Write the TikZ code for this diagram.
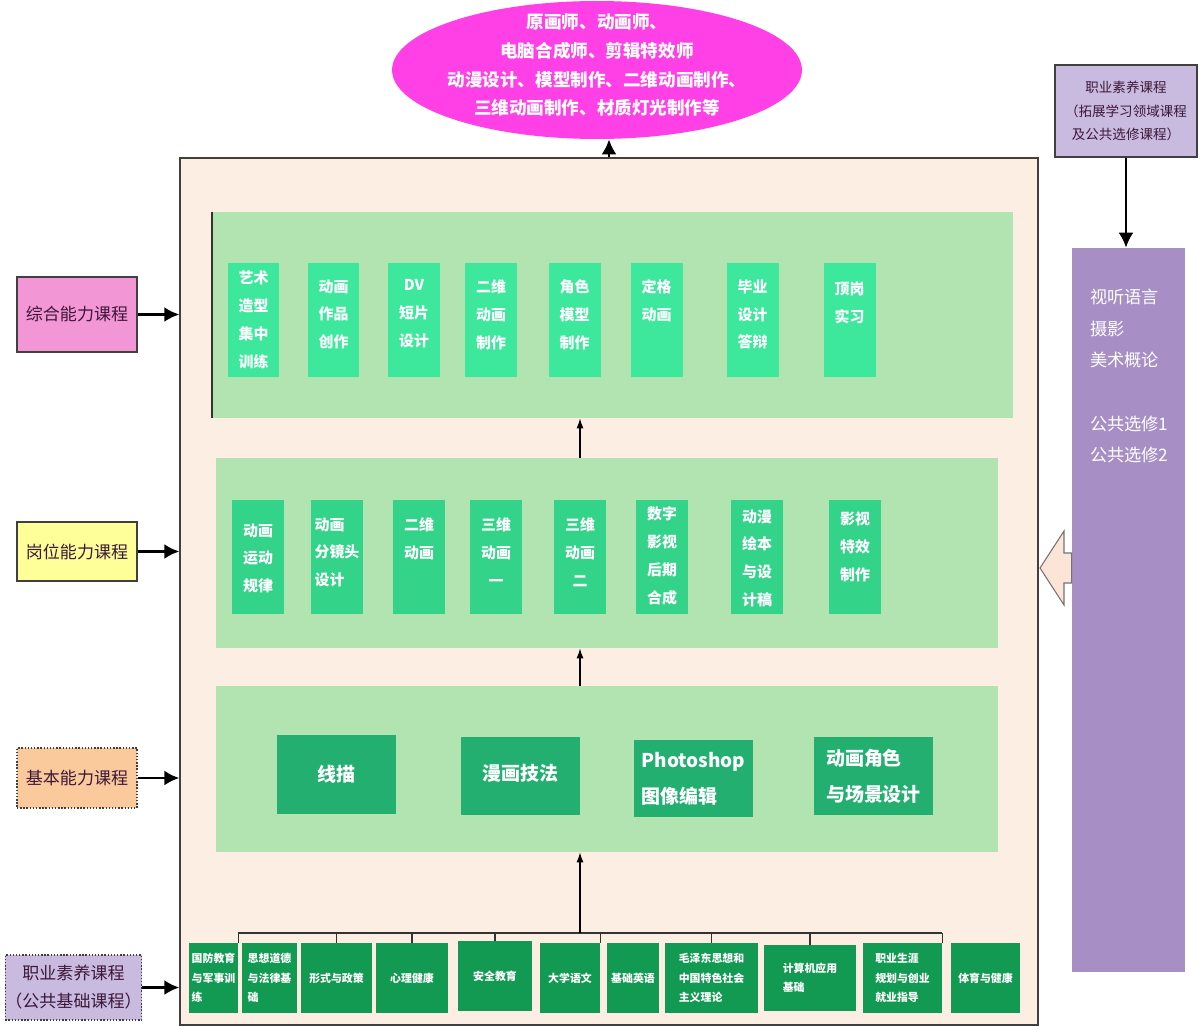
\documentclass[tikz,border=0pt]{standalone}
\usepackage{fontspec}
\setmainfont{Noto Sans CJK SC}
\usetikzlibrary{shapes.geometric,arrows.meta,positioning}

\definecolor{framebg}{HTML}{FDEEE4}
\definecolor{bandgreen}{HTML}{B1E4B0}
\definecolor{topgreen}{HTML}{3DE89D}
\definecolor{midgreen}{HTML}{33D38A}
\definecolor{lowgreen}{HTML}{22AF6F}
\definecolor{basegreen}{HTML}{139A52}
\definecolor{goalpink}{HTML}{FF40E6}
\definecolor{labpink}{HTML}{F396D6}
\definecolor{labyellow}{HTML}{FFFF99}
\definecolor{labpeach}{HTML}{FAC99C}
\definecolor{lablilac}{HTML}{C9BAE0}
\definecolor{colpurple}{HTML}{A78FC5}
\definecolor{labtext}{HTML}{3C1838}
\definecolor{hollow}{HTML}{FCE4D6}

\tikzset{
  bigarrow/.style={line width=1.6pt,-{Latex[length=3mm,width=3mm]}},
  thinarrow/.style={line width=0.7pt,-{Latex[length=2mm,width=1.4mm]}},
  band/.style={fill=bandgreen,inner sep=0},
  topbox/.style={fill=topgreen,minimum width=1.04cm,minimum height=2.28cm,inner sep=0},
  midbox/.style={fill=midgreen,minimum width=1.04cm,minimum height=2.28cm,inner sep=0},
  boxtext/.style={text=white,font=\bfseries\fontsize{8.5}{15.9}\selectfont,align=center,inner sep=0,anchor=north},
  lowbox/.style={fill=lowgreen,minimum width=2.38cm,minimum height=1.56cm,inner sep=0,text=white,
    font=\bfseries\fontsize{10.8}{20.4}\selectfont,align=left},
  basebox/.style={fill=basegreen,minimum height=1.4cm,inner sep=0,text=white,
    font=\bfseries\fontsize{6.2}{11}\selectfont,align=left},
  course/.style={draw=black!75,line width=0.8pt,minimum width=2.4cm,inner sep=0,text=labtext,
    font=\fontsize{9.7}{16}\selectfont,align=center}
}

\begin{document}
\begin{tikzpicture}[x=0.02cm,y=-0.02cm]
  \useasboundingbox (0,0) rectangle (1200,1027);

  \node[ellipse,fill=goalpink,minimum width=8.2cm,minimum height=2.76cm,inner sep=0] (goal) at (597,70) {};
  \node[text=white,font=\bfseries\fontsize{10}{16.4}\selectfont,align=center] (goaltext) at (597,65)
    {原画师、动画师、\\电脑合成师、剪辑特效师\\动漫设计、模型制作、二维动画制作、\\三维动画制作、材质灯光制作等};

  \node[draw=black!75,line width=0.8pt,fill=framebg,minimum width=17.16cm,minimum height=17.34cm] (frame) at (609,591.5) {};
  \draw[bigarrow] (frame.north) -- (frame.north |- goal.south);

  \node[band,minimum width=16.02cm,minimum height=4.12cm] (band1) at (612.5,315) {};
  \node[band,minimum width=15.64cm,minimum height=3.8cm] (band2) at (607,553) {};
  \node[band,minimum width=15.64cm,minimum height=3.32cm] (band3) at (607,769) {};
  \draw[line width=1pt,black!80] (band1.north west) -- (band1.south west);

  \node[topbox,label={[boxtext,yshift=-0.15cm]north:{艺术\\造型\\集中\\训练}}] (z1) at (253.5,320) {};
  \node[topbox,label={[boxtext,yshift=-0.33cm]north:{动画\\作品\\创作}}] (z2) at (333.5,320) {};
  \node[topbox,label={[boxtext,yshift=-0.33cm]north:{DV\\短片\\设计}}] (z3) at (414,320) {};
  \node[topbox,label={[boxtext,yshift=-0.33cm]north:{二维\\动画\\制作}}] (z4) at (491,320) {};
  \node[topbox,label={[boxtext,yshift=-0.33cm]north:{角色\\模型\\制作}}] (z5) at (574.5,320) {};
  \node[topbox,label={[boxtext,yshift=-0.33cm]north:{定格\\动画}}] (z6) at (656.5,320) {};
  \node[topbox,label={[boxtext,yshift=-0.33cm]north:{毕业\\设计\\答辩}}] (z7) at (752.5,320) {};
  \node[topbox,label={[boxtext,yshift=-0.38cm]north:{顶岗\\实习}}] (z8) at (849.5,320) {};

  \node[midbox,label={[boxtext,yshift=-0.47cm]north:{动画\\运动\\规律}}] (m1) at (258,557) {};
  \node[midbox,label={[boxtext,align=left,yshift=-0.35cm]north:{动画\\分镜头\\设计}}] (m2) at (337,557) {};
  \node[midbox,label={[boxtext,yshift=-0.35cm]north:{二维\\动画}}] (m3) at (419,557) {};
  \node[midbox,label={[boxtext,yshift=-0.35cm]north:{三维\\动画\\一}}] (m4) at (496,557) {};
  \node[midbox,label={[boxtext,yshift=-0.35cm]north:{三维\\动画\\二}}] (m5) at (580,557) {};
  \node[midbox,label={[boxtext,yshift=-0.13cm]north:{数字\\影视\\后期\\合成}}] (m6) at (662,557) {};
  \node[midbox,label={[boxtext,yshift=-0.19cm]north:{动漫\\绘本\\与设\\计稿}}] (m7) at (757,557) {};
  \node[midbox,label={[boxtext,yshift=-0.24cm]north:{影视\\特效\\制作}}] (m8) at (855,557) {};

  \node[lowbox,minimum height=1.58cm] (a1) at (336.5,774.5) {线描};
  \node[lowbox] (a2) at (520.5,776) {\raisebox{0.15cm}{漫画技法}};
  \node[lowbox,minimum height=1.54cm] (a3) at (693.5,778.5) {Photoshop\\图像编辑};
  \node[lowbox] (a4) at (873.5,776) {动画角色\\与场景设计};

  \node[basebox,minimum width=0.98cm] (b1) at (213.5,978) {国防教育\\与军事训\\练};
  \node[basebox,minimum width=1.1cm] (b2) at (269.5,978) {思想道德\\与法律基\\础};
  \node[basebox,minimum width=1.42cm] (b3) at (336.5,978) {形式与政策};
  \node[basebox,minimum width=1.44cm] (b4) at (412,978) {心理健康};
  \node[basebox,minimum width=1.48cm] (b5) at (495,976) {安全教育};
  \node[basebox,minimum width=1.2cm] (b6) at (570,978) {大学语文};
  \node[basebox,minimum width=1.04cm] (b7) at (633,978) {基础英语};
  \node[basebox,minimum width=1.86cm] (b8) at (711.5,978) {毛泽东思想和\\中国特色社会\\主义理论};
  \node[basebox,minimum width=1.84cm,minimum height=1.32cm] (b9) at (810,978) {计算机应用\\基础};
  \node[basebox,minimum width=1.58cm] (b10) at (902.5,978) {职业生涯\\规划与创业\\就业指导};
  \node[basebox,minimum width=1.38cm] (b11) at (985.5,978) {体育与健康};

  \coordinate (bus) at (580,933);
  \draw[line width=0.8pt,black!80] (b1.north east |- bus) -- (b10.north east |- bus);
  \foreach \n/\a in {b1/north east,b3/north,b4/north,b5/north,b6/north east,b8/north,b9/north,b10/north east}
    \draw[line width=0.8pt,black!80] (\n.\a) -- (\n.\a |- bus);
  \draw[thinarrow] (bus) -- (bus |- band3.south);
  \draw[thinarrow] (bus |- band3.north) -- (bus |- band2.south);
  \draw[thinarrow] (bus |- band2.north) -- (bus |- band1.south);

  \node[course,fill=labpink,minimum height=1.5cm] (lab1) at (77,314.5) {综合能力课程};
  \node[course,fill=labyellow,minimum height=1.18cm] (lab2) at (77,551.5) {岗位能力课程};
  \node[course,fill=labpeach,densely dotted,minimum height=1.2cm] (lab3) at (77,778) {基本能力课程};
  \node[course,fill=lablilac,densely dotted,minimum width=2.54cm,minimum height=1.3cm] (lab4) at (73.5,987.5)
    {职业素养课程\\（公共基础课程）};
  \foreach \l in {lab1,lab2,lab3,lab4}
    \draw[bigarrow] (\l.east) -- (\l.east -| frame.west);

  \node[draw=black!75,line width=0.8pt,fill=lablilac,minimum width=2.84cm,minimum height=1.84cm,inner sep=0,
    text=labtext,font=\fontsize{7.7}{13.6}\selectfont,align=center] (elective) at (1126,111)
    {职业素养课程\\（拓展学习领域课程\\及公共选修课程）};
  \node[fill=colpurple,minimum width=2.26cm,minimum height=14.48cm,inner sep=0,
    label={[text=white,font=\fontsize{9.8}{18}\selectfont,align=left,anchor=north west,inner sep=0,
      xshift=0.36cm,yshift=-0.82cm]north west:{视听语言\\摄影\\美术概论\\[18pt]公共选修1\\公共选修2}}]
    (column) at (1128.5,610) {};
  \draw[bigarrow] (elective.south) -- (elective.south |- column.north);
  \draw[fill=hollow,draw=black!55,line width=0.6pt] (1040,568) -- (1064,531) -- (1064,553) -- (column.west |- 0,553)
    -- (column.west |- 0,583) -- (1064,583) -- (1064,605) -- cycle;
\end{tikzpicture}
\end{document}
